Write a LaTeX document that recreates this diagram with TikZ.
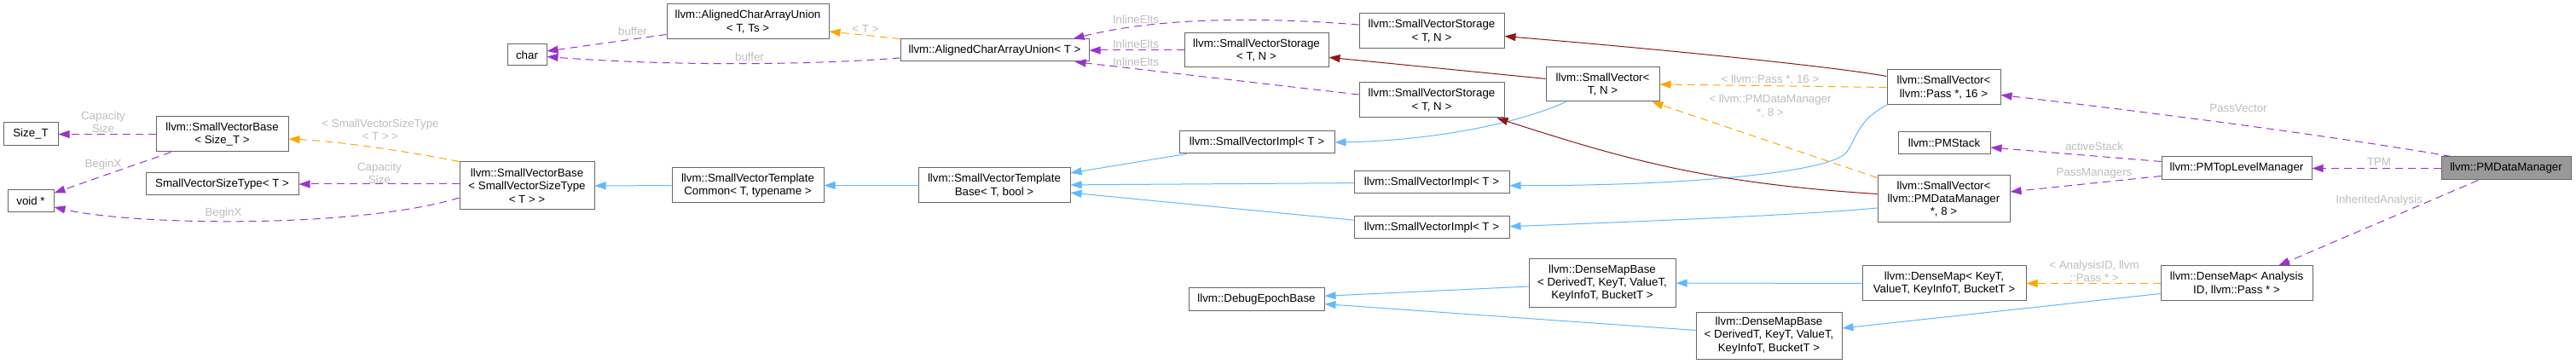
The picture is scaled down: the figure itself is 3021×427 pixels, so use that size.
\documentclass[tikz,border=0pt]{standalone}
\usepackage{fontspec}
\setmainfont{Liberation Sans}
\usepackage{tikz}
\usetikzlibrary{arrows.meta}
\definecolor{boxGray}{HTML}{666666}
\definecolor{fillGray}{HTML}{999999}
\definecolor{labelGray}{HTML}{BEBEBE}
\definecolor{memberPurple}{HTML}{9A32CD}
\definecolor{tmplOrange}{HTML}{FFA500}
\definecolor{pubBlue}{HTML}{63B8FF}
\definecolor{privRed}{HTML}{8B1A1A}
\tikzset{
  cls/.style={draw=boxGray, line width=1pt, fill=white, inner sep=1pt, align=center},
  lbl/.style={text=labelGray, inner sep=0pt, align=center},
  pub/.style={draw=pubBlue, line width=1pt, -{Triangle[length=13pt,width=9pt]}},
  priv/.style={draw=privRed, line width=1pt, -{Triangle[length=13pt,width=9pt]}},
  member/.style={draw=memberPurple, line width=1pt, dash pattern=on 9pt off 6pt, -{Triangle[length=13pt,width=9pt]}},
  tmpl/.style={draw=tmplOrange, line width=1pt, dash pattern=on 9pt off 6pt, -{Triangle[length=13pt,width=9pt]}},
}

\begin{document}
\begin{tikzpicture}[x=1pt,y=-1pt,every node/.style={font=\fontsize{13.3}{15.2}\selectfont}]
\path[use as bounding box, fill=white] (0,0) rectangle (3021,427);
% classes, column by column
\node[cls, minimum width=64pt, minimum height=27pt] (sizeT) at (36,157.5) {Size\_T};
\node[cls, minimum width=54pt, minimum height=26pt] (voidp) at (36,236) {void *};
\node[cls, minimum width=155pt, minimum height=41pt] (svbSize) at (260.5,157.5) {llvm::SmallVectorBase\\< Size\_T >};
\node[cls, minimum width=179pt, minimum height=26pt] (svst) at (260.5,216) {SmallVectorSizeType< T >};
\node[cls, minimum width=158pt, minimum height=56pt] (svbSVST) at (618,218) {llvm::SmallVectorBase\\< SmallVectorSizeType\\< T > >};
\node[cls, minimum width=46pt, minimum height=25pt] (charN) at (618,64.5) {char};
\node[cls, minimum width=190pt, minimum height=41pt] (acauTs) at (877,25.5) {llvm::AlignedCharArrayUnion\\< T, Ts >};
\node[cls, minimum width=178pt, minimum height=41pt] (svtc) at (877,217.5) {llvm::SmallVectorTemplate\\Common< T, typename >};
\node[cls, minimum width=221pt, minimum height=26pt] (acauT) at (1166.5,59) {llvm::AlignedCharArrayUnion< T >};
\node[cls, minimum width=178pt, minimum height=41pt] (svtb) at (1166,217.5) {llvm::SmallVectorTemplate\\Base< T, bool >};
\node[cls, minimum width=169pt, minimum height=40pt] (storB) at (1473.5,59) {llvm::SmallVectorStorage\\< T, N >};
\node[cls, minimum width=182pt, minimum height=26pt] (implA) at (1474,167) {llvm::SmallVectorImpl< T >};
\node[cls, minimum width=159pt, minimum height=26pt] (debug) at (1473.5,351) {llvm::DebugEpochBase};
\node[cls, minimum width=170pt, minimum height=41pt] (storA) at (1679,36.5) {llvm::SmallVectorStorage\\< T, N >};
\node[cls, minimum width=170pt, minimum height=41pt] (storC) at (1679,117.5) {llvm::SmallVectorStorage\\< T, N >};
\node[cls, minimum width=182pt, minimum height=26pt] (implB) at (1679,214) {llvm::SmallVectorImpl< T >};
\node[cls, minimum width=182pt, minimum height=26pt] (implC) at (1679,267) {llvm::SmallVectorImpl< T >};
\node[cls, minimum width=133pt, minimum height=40pt] (svTN) at (1879.5,99) {llvm::SmallVector<\\T, N >};
\node[cls, minimum width=172pt, minimum height=56pt] (dmbA) at (1879,332) {llvm::DenseMapBase\\< DerivedT, KeyT, ValueT,\\KeyInfoT, BucketT >};
\node[cls, minimum width=171pt, minimum height=55pt] (dmbB) at (2074.5,393.5) {llvm::DenseMapBase\\< DerivedT, KeyT, ValueT,\\KeyInfoT, BucketT >};
\node[cls, minimum width=133pt, minimum height=41pt] (svPass) at (2279.5,102.5) {llvm::SmallVector<\\llvm::Pass *, 16 >};
\node[cls, minimum width=108pt, minimum height=26pt] (pmstack) at (2280,168) {llvm::PMStack};
\node[cls, minimum width=155pt, minimum height=55pt] (svPMDM) at (2279.5,233.5) {llvm::SmallVector<\\llvm::PMDataManager\\*, 8 >};
\node[cls, minimum width=192pt, minimum height=41pt] (dmKey) at (2280,332.5) {llvm::DenseMap< KeyT,\\ValueT, KeyInfoT, BucketT >};
\node[cls, minimum width=176pt, minimum height=27pt] (pmtlm) at (2623,197.5) {llvm::PMTopLevelManager};
\node[cls, minimum width=178pt, minimum height=41pt] (dmAID) at (2623,332.5) {llvm::DenseMap< Analysis\\ID, llvm::Pass * >};
\node[cls, fill=fillGray, minimum width=152pt, minimum height=27pt] (pmdm) at (2939,197.5) {llvm::PMDataManager};
\coordinate (bendA) at (2166,178);
% public inheritance
\draw[pub] (svtc) -- (svbSVST);
\draw[pub] (svtb) -- (svtc);
\draw[pub] (implA) -- (svtb);
\draw[pub] (implB) -- (svtb);
\draw[pub] (implC) -- (svtb);
\draw[pub] ([xshift=-43pt]svTN.south) .. controls (1780,145) and (1680,165) .. (implA.east);
\draw[pub] (svPass.south west) .. controls (2180,140) and (2178,160) .. (bendA) .. controls (2150,202) and (1980,218) .. ([yshift=-3.7pt]implB.east);
\draw[pub] ([yshift=-10.5pt]svPMDM.west) .. controls (2130,251) and (1950,259) .. ([yshift=1.3pt]implC.east);
\draw[pub] (dmbA) -- (debug);
\draw[pub] (dmbB) -- (debug);
\draw[pub] (dmKey) -- (dmbA);
\draw[pub] ([yshift=-12pt]dmAID.west) -- ([yshift=8.5pt]dmbB.east);
% private inheritance
\draw[priv] (svTN) -- (storB);
\draw[priv] ([yshift=13pt]svPass.west) .. controls (2150,78) and (1950,58) .. ([yshift=-6pt]storA.east);
\draw[priv] ([yshift=6pt]svPMDM.west) .. controls (2000,215) and (1900,185) .. ([xshift=-9pt]storC.south east);
% template instances
\draw[tmpl] (svbSVST.north west) .. controls (480,178) and (400,166) .. ([yshift=-5.5pt]svbSize.east);
\draw[tmpl] (acauT.north west) -- ([yshift=-11.5pt]acauTs.east);
\draw[tmpl] (svPass.west) -- (svTN.east);
\draw[tmpl] ([yshift=-3pt]svPMDM.north west) -- ([xshift=-9pt]svTN.south east);
\draw[tmpl] (dmAID) -- (dmKey);
% members
\draw[member] (svbSize) -- (sizeT);
\draw[member] (svbSize) -- (voidp);
\draw[member] ([yshift=2pt]svbSVST.west) -- (svst.east);
\draw[member] ([yshift=-14pt]svbSVST.west) .. controls (420,268) and (160,265) .. ([yshift=-7pt]voidp.east);
\draw[member] ([yshift=-15pt]acauTs.west) -- ([yshift=4.5pt]charN.east);
\draw[member] ([yshift=-9pt]acauT.west) .. controls (940,77) and (780,77) .. ([yshift=-2pt]charN.east);
\draw[member] ([yshift=7.5pt]storA.west) .. controls (1480,20) and (1360,20) .. ([xshift=-19pt]acauT.north east);
\draw[member] (storB) -- (acauT);
\draw[member] ([yshift=6.5pt]storC.west) -- ([xshift=-17pt]acauT.south east);
\draw[member] ([yshift=8pt]pmtlm.west) -- ([yshift=-5pt]pmstack.east);
\draw[member] ([yshift=-9pt]pmtlm.west) -- ([yshift=8.5pt]svPMDM.east);
\draw[member] ([xshift=12pt]pmdm.north west) .. controls (2750,162) and (2550,135) .. ([yshift=-9pt]svPass.east);
\draw[member] (pmdm) -- (pmtlm);
\draw[member] (pmdm) -- (dmAID);
% edge labels
\node[lbl] (lCapA) at (121,143) {Capacity\\Size};
\node[lbl] (lBeginA) at (121,193) {BeginX};
\node[lbl] (lSizeType) at (446,152.5) {< SmallVectorSizeType\\< T > >};
\node[lbl] (lCapB) at (445,203) {Capacity\\Size};
\node[lbl] (lBeginB) at (262,250) {BeginX};
\node[lbl] (lBufA) at (742,37) {buffer};
\node[lbl] (lBufB) at (879,67) {buffer};
\node[lbl] (lT) at (1015,34) {< T >};
\node[lbl] (lEltsA) at (1332,23) {InlineElts};
\node[lbl] (lEltsB) at (1332,52) {InlineElts};
\node[lbl] (lEltsC) at (1332,73) {InlineElts};
\node[lbl] (lPass) at (2076,94) {< llvm::Pass *, 16 >};
\node[lbl] (lPMDM) at (2076,124.5) {< llvm::PMDataManager\\*, 8 >};
\node[lbl] (lStack) at (2456,172) {activeStack};
\node[lbl] (lManagers) at (2456,203) {PassManagers};
\node[lbl] (lAID) at (2456,318) {< AnalysisID, llvm\\::Pass * >};
\node[lbl] (lVector) at (2625,127) {PassVector};
\node[lbl] (lTPM) at (2790,190) {TPM};
\node[lbl] (lInh) at (2790,235) {InheritedAnalysis};
\end{tikzpicture}
\end{document}
